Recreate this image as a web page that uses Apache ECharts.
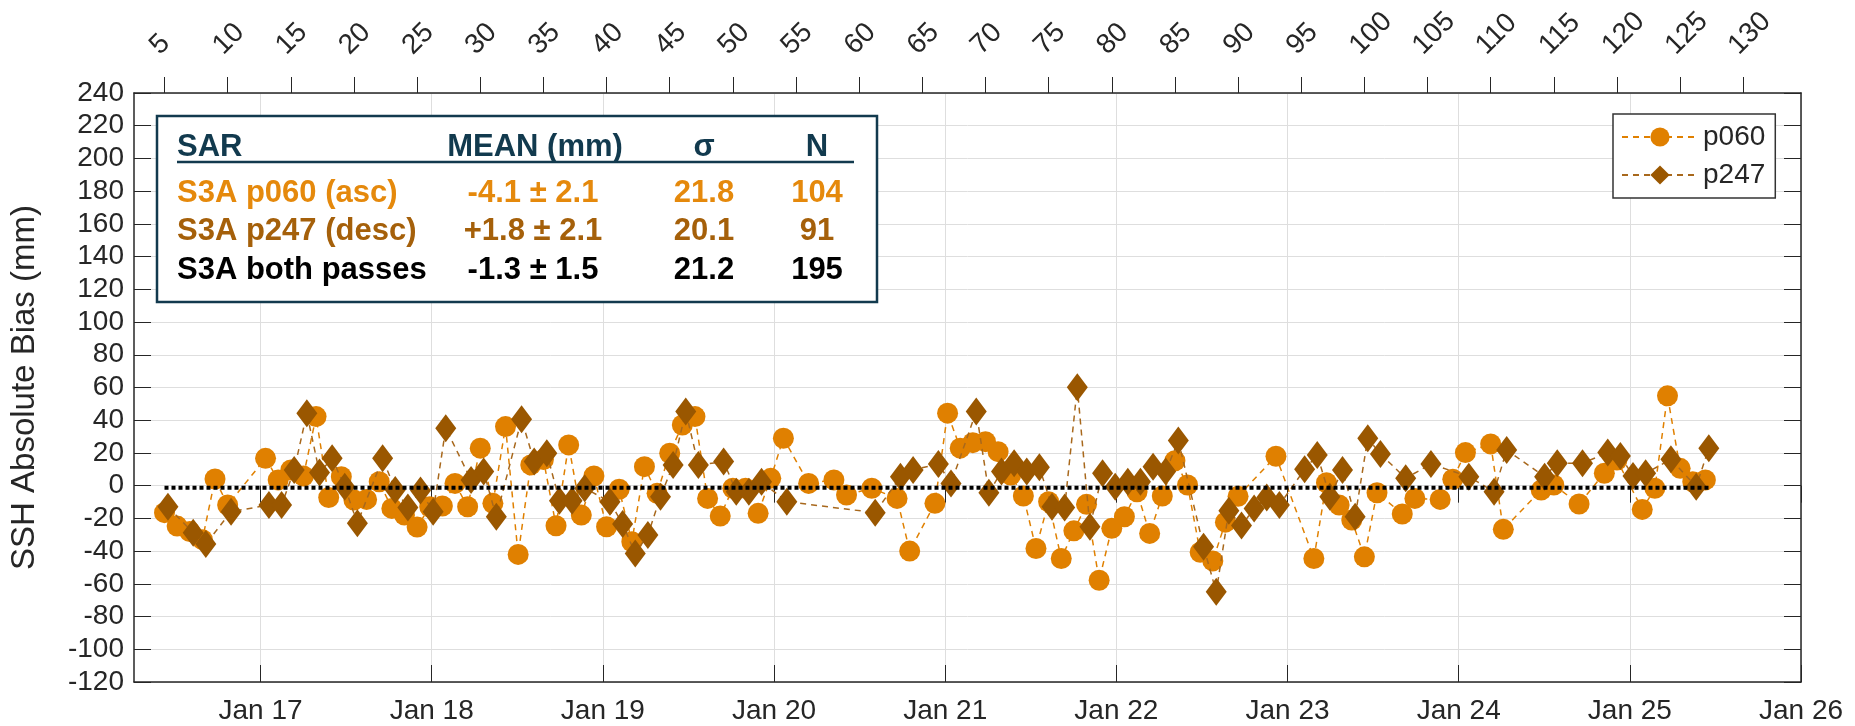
<!DOCTYPE html>
<html>
<head>
<meta charset="utf-8">
<title>S3A SAR SSH absolute bias</title>
<script src="https://cdn.jsdelivr.net/npm/echarts@6/dist/echarts.min.js"></script>
<style>
  html, body { margin: 0; padding: 0; background: #fff; }
  #chart { width: 1855px; height: 726px; }
</style>
</head>
<body>
<div id="chart"></div>
<script>
// cycle number of each pass (top axis) and SSH absolute bias in mm
const p060Cycles = [5, 6, 7, 8, 9, 10, 13, 14, 15, 16, 17, 18, 19, 20, 21, 22, 23, 24, 25, 26, 27, 28, 29, 30, 31, 32, 33, 34, 35, 36, 37, 38, 39, 40, 41, 42, 43, 44, 45, 46, 47, 48, 49, 50, 51, 52, 53, 54, 56, 58, 59, 61, 63, 64, 66, 67, 68, 69, 70, 71, 72, 73, 74, 75, 76, 77, 78, 79, 80, 81, 82, 83, 84, 85, 86, 87, 88, 89, 90, 93, 96, 97, 98, 99, 100, 101, 103, 104, 106, 107, 108, 110, 111, 114, 115, 117, 119, 120, 122, 123, 124, 125, 126, 127]
const p060Bias = [-16.5, -24.7, -28, -33, 4.1, -11.8, 16.7, 3.5, 9.6, 5.9, 42.2, -7.3, 5.5, -8.8, -8.4, 2.4, -13.9, -18, -25.3, -12.9, -12.4, 1.4, -12.9, 22.9, -10.8, 36.1, -42, 12.7, 16, -24.5, 24.9, -18, 5.9, -25.1, -2.2, -34.3, 11.6, -4.7, 19.8, 37.1, 42.2, -7.8, -18.6, -1.6, -1.6, -16.9, 4.5, 29, 1.4, 3.5, -5.7, -1.6, -7.8, -40, -10.8, 44.3, 22.9, 26.3, 26.9, 20.8, 6.5, -6.3, -38.4, -9.8, -44.5, -27.6, -11.4, -57.8, -26.1, -19, -3.7, -29.2, -6.3, 15.2, 0.4, -40.7, -46, -22.3, -6.5, 18, -44.5, 1.8, -11.8, -21, -43.5, -4.3, -17.3, -7.8, -8.4, 3.9, 20.2, 25.5, -26.7, -2.7, 0.4, -11.2, 7.6, 15.7, -14.5, -1.6, 54.9, 10.6, 2.4, 3.5]

const p247Cycles = [5, 7, 8, 10, 13, 14, 15, 16, 17, 18, 19, 20, 22, 23, 24, 25, 26, 27, 29, 30, 31, 33, 34, 35, 36, 37, 38, 40, 41, 42, 43, 44, 45, 46, 47, 49, 50, 51, 52, 54, 61, 63, 64, 66, 67, 69, 70, 71, 72, 73, 74, 75, 76, 77, 78, 79, 80, 81, 82, 83, 84, 85, 87, 88, 89, 90, 91, 92, 93, 95, 96, 97, 98, 99, 100, 101, 103, 105, 108, 110, 111, 114, 115, 117, 119, 120, 121, 122, 124, 126, 127]
const p247Bias = [-12.9, -28.8, -35.7, -15.9, -11.8, -11.8, 9.6, 44.3, 8.0, 16.7, -0.6, -23, 16.7, -2.7, -13.3, -3, -15.9, 35.1, 3.5, 8.6, -19, 40.6, 14.7, 19.8, -9.2, -9.2, -1.6, -9.8, -23.5, -41.4, -30.2, -6.7, 12.7, 45.3, 12.7, 14.7, -3.7, -3.7, 2.4, -9.8, -16.5, 5.5, 9.6, 13.3, 1.4, 45.3, -4.3, 8.6, 13.7, 8.6, 11.2, -12.9, -13.3, 60.2, -25.1, 7.6, -0.6, 2.4, 2.4, 11.6, 8.6, 27.6, -37.3, -64.9, -15.4, -24.4, -14, -7.2, -11.8, 10, 18.8, -6.7, 9.6, -19, 29, 19.4, 4.5, 13.3, 5.5, -3.7, 21.8, 5.5, 13.7, 13.7, 20.2, 18.2, 5.9, 7.6, 16.1, -0.6, 22.9]

// pass time inside a 27-day cycle, as a fraction of the cycle
const p060Offset = 0
const p247Offset = 0.27

const meanBoth = -1.3

const yearTicks = [2017, 2018, 2019, 2020, 2021, 2022, 2023, 2024, 2025, 2026]
const cycleTicks = [5, 10, 15, 20, 25, 30, 35, 40, 45, 50, 55, 60, 65, 70, 75, 80, 85, 90, 95, 100, 105, 110, 115, 120, 125, 130]

// statistics table
const tableHeader = ['SAR', 'MEAN (mm)', 'σ', 'N']
const tableRows = [
  ['S3A p060 (asc)', '-4.1 ± 2.1', '21.8', '104'],
  ['S3A p247 (desc)', '+1.8 ± 2.1', '20.1', '91'],
  ['S3A both passes', '-1.3 ± 1.5', '21.2', '195']
]

// 公共颜色
const colors = {
  p060: '#E08000',
  p247: '#9A5700',
  p247Line: '#A8681C',
  header: '#123A4E',
  row: ['#E5890C', '#A5600A', '#000000'],
  axis: '#262626',
  grid: '#dedede'
}

const FONT = '"Liberation Sans", Arial, sans-serif'

const p060Data = p060Cycles.map((c, i) => [c + p060Offset, p060Bias[i]])
const p247Data = p247Cycles.map((c, i) => [c + p247Offset, p247Bias[i]])
const meanData = [
  [p060Cycles[0] + p060Offset, meanBoth],
  [p247Cycles[p247Cycles.length - 1] + p247Offset, meanBoth]
]

// table box (annotation, pixel layout)
const box = { x: 157, y: 116, w: 720, h: 186 }
const colX = [177, 535, 704, 817]
const headerY = 147
const rowY = [193, 231, 270]

const tableGraphics = [{
  type: 'rect',
  z: 100,
  shape: { x: box.x, y: box.y, width: box.w, height: box.h },
  style: { fill: '#fff', stroke: colors.header, lineWidth: 2.5 }
}, {
  type: 'line',
  z: 101,
  shape: { x1: 177, y1: 162, x2: 854, y2: 162 },
  style: { stroke: colors.header, lineWidth: 2.5 }
}]
tableHeader.forEach((t, j) => {
  tableGraphics.push({
    type: 'text',
    z: 101,
    x: colX[j],
    y: headerY,
    style: {
      text: t,
      fill: colors.header,
      font: 'bold 31px ' + FONT,
      align: j === 0 ? 'left' : 'center',
      verticalAlign: 'middle'
    }
  })
})
tableRows.forEach((row, i) => {
  row.forEach((t, j) => {
    tableGraphics.push({
      type: 'text',
      z: 101,
      x: colX[j] + (j === 1 ? -2 : 0),
      y: rowY[i],
      style: {
        text: t,
        fill: colors.row[i],
        font: 'bold 31px ' + FONT,
        align: j === 0 ? 'left' : 'center',
        verticalAlign: 'middle'
      }
    })
  })
})

const chart = echarts.init(document.getElementById('chart'), null, { renderer: 'canvas' })

const yearMin = 2016.2605
const yearMax = 2026
const cycleMin = 2.585
const cycleMax = 134.57

chart.setOption({
  animation: false,
  backgroundColor: '#fff',
  textStyle: { fontFamily: FONT },
  grid: { left: 134, right: 54, top: 93, bottom: 44, containLabel: false, outerBoundsMode: 'none' },
  legend: {
    data: ['p060', 'p247'],
    orient: 'vertical',
    left: 1613,
    top: 114,
    padding: [9, 10, 9, 8],
    itemWidth: 76,
    itemHeight: 24,
    itemGap: 10,
    borderColor: '#333',
    borderWidth: 1.5,
    backgroundColor: '#fff',
    textStyle: { fontSize: 28, color: colors.axis, fontFamily: FONT, lineHeight: 24 }
  },
  xAxis: [
    {
      type: 'value',
      position: 'bottom',
      min: yearMin,
      max: yearMax,
      splitNumber: 10,
      axisLine: { show: true, onZero: false, lineStyle: { color: colors.axis, width: 1.5 } },
      axisTick: { show: true, inside: true, length: 17, customValues: yearTicks, lineStyle: { color: colors.axis } },
      axisLabel: {
        customValues: yearTicks,
        fontSize: 28,
        color: colors.axis,
        margin: 15,
        formatter: v => 'Jan ' + String(Math.round(v)).slice(2)
      },
      splitLine: { show: true, lineStyle: { color: colors.grid, width: 1 } }
    },
    {
      type: 'value',
      position: 'top',
      min: cycleMin,
      max: cycleMax,
      axisLine: { show: true, onZero: false, lineStyle: { color: colors.axis, width: 1.5 } },
      axisTick: { show: true, inside: false, length: 16, customValues: cycleTicks, lineStyle: { color: colors.axis } },
      axisLabel: {
        customValues: cycleTicks,
        rotate: -45,
        align: 'left',
        verticalAlign: 'bottom',
        fontSize: 28,
        color: colors.axis,
        margin: 33
      },
      splitLine: { show: false }
    },
    {
      // year ticks mirrored on the top edge
      type: 'value',
      position: 'top',
      min: yearMin,
      max: yearMax,
      splitNumber: 10,
      axisLine: { show: false },
      axisTick: { show: true, inside: true, length: 17, customValues: yearTicks, lineStyle: { color: colors.axis } },
      axisLabel: { show: false },
      splitLine: { show: false }
    }
  ],
  yAxis: [
    {
      type: 'value',
      position: 'left',
      min: -120,
      max: 240,
      interval: 20,
      name: 'SSH Absolute Bias (mm)',
      nameLocation: 'middle',
      nameGap: 93,
      nameTextStyle: { fontSize: 33, color: colors.axis, fontFamily: FONT },
      axisLine: { show: true, onZero: false, lineStyle: { color: colors.axis, width: 1.5 } },
      axisTick: { show: true, inside: true, length: 17, lineStyle: { color: colors.axis } },
      axisLabel: { fontSize: 28, color: colors.axis, margin: 10 },
      splitLine: { show: true, lineStyle: { color: colors.grid, width: 1 } }
    },
    {
      type: 'value',
      position: 'right',
      min: -120,
      max: 240,
      interval: 20,
      axisLine: { show: true, onZero: false, lineStyle: { color: colors.axis, width: 1.5 } },
      axisTick: { show: true, inside: true, length: 17, lineStyle: { color: colors.axis } },
      axisLabel: { show: false },
      splitLine: { show: false }
    }
  ],
  graphic: tableGraphics,
  series: [
    {
      name: 'p060',
      type: 'line',
      xAxisIndex: 1,
      yAxisIndex: 0,
      data: p060Data,
      symbol: 'circle',
      symbolSize: 21,
      itemStyle: { color: colors.p060 },
      lineStyle: { color: colors.p060, width: 1.5, type: [6, 5] },
      z: 2
    },
    {
      name: 'p247',
      type: 'line',
      xAxisIndex: 1,
      yAxisIndex: 0,
      data: p247Data,
      symbol: 'diamond',
      symbolSize: [21, 28],
      itemStyle: { color: colors.p247 },
      lineStyle: { color: colors.p247Line, width: 1.5, type: [6, 5] },
      z: 3
    },
    {
      name: 'mean',
      type: 'line',
      xAxisIndex: 1,
      yAxisIndex: 0,
      data: meanData,
      showSymbol: false,
      silent: true,
      lineStyle: { color: '#000', width: 4, type: [4, 3] },
      z: 4
    }
  ]
})

window.addEventListener('resize', () => {
  chart.resize()
})
</script>
</body>
</html>
